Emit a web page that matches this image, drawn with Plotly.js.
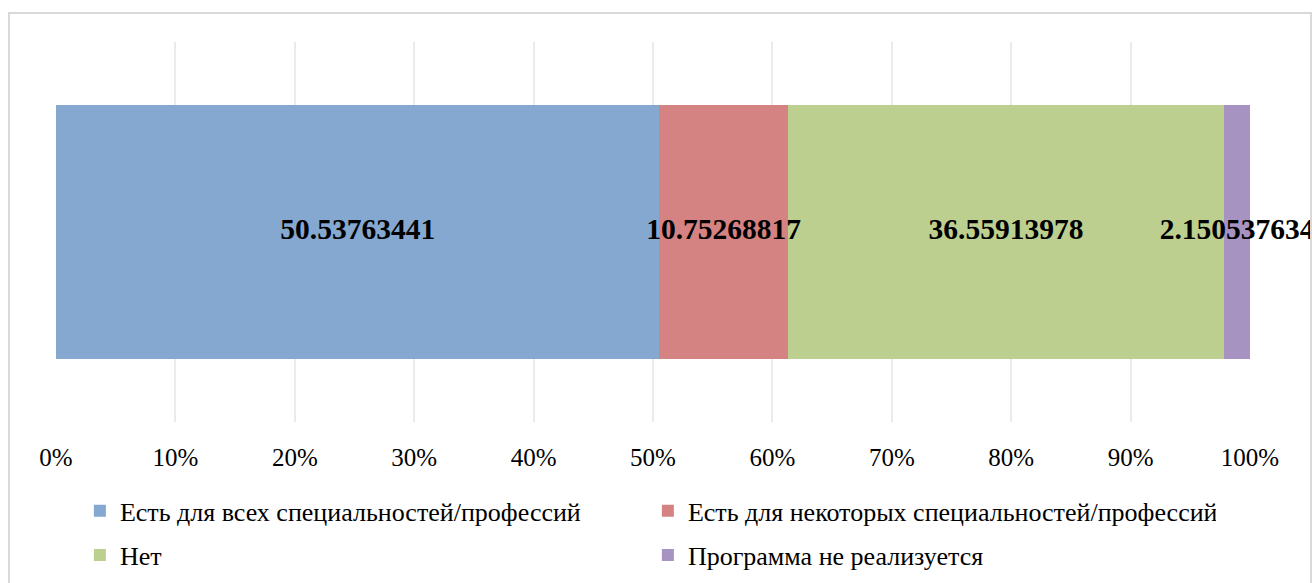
<!DOCTYPE html>
<html>
<head>
<meta charset="utf-8">
<script src="https://cdn.plot.ly/plotly-3.0.1.min.js"></script>
<style>
  body { margin: 0; background: #fff; }
  #wrap { position: relative; width: 1312px; height: 583px; overflow: hidden; }
  #chart { width: 1312px; height: 583px; }
  #frame {
    position: absolute; left: 8px; top: 12px; width: 1300px; height: 600px;
    border: 2px solid #D9D9D9; pointer-events: none;
  }
</style>
</head>
<body>
<div id="wrap">
  <div id="chart"></div>
  <div id="frame"></div>
</div>
<script>
// ─────────────────────────────
// DATOS
// ─────────────────────────────
const categoria = [''];
const series = [
  'Есть для всех специальностей/профессий',
  'Есть для некоторых специальностей/профессий',
  'Нет',
  'Программа не реализуется'
];
const valores = [50.53763441, 10.75268817, 36.55913978, 2.150537634];
const colores = ['#85A8D0', '#D58282', '#BDCF8F', '#A693C2'];
const ticksX = [0, 10, 20, 30, 40, 50, 60, 70, 80, 90, 100];
const ticksTexto = ['0%', '10%', '20%', '30%', '40%', '50%', '60%', '70%', '80%', '90%', '100%'];

const FUENTE = 'Liberation Serif, Times New Roman, serif';

// ─────────────────────────────
// TRAZAS
// ─────────────────────────────
const traces = series.map((nombre, i) => ({
  type: 'bar',
  orientation: 'h',
  name: nombre,
  y: categoria,
  x: [valores[i]],
  marker: { color: colores[i], line: { width: 0 } },
  width: 0.668,
  hoverinfo: 'name+x',
  legend: i < 2 ? 'legend' : 'legend2'
}));

// etiquetas encima de todas las barras (centro de cada segmento)
let acumulado = 0;
const centros = valores.map(v => {
  const c = acumulado + v / 2;
  acumulado += v;
  return c;
});

traces.push({
  type: 'scatter',
  mode: 'text',
  x: centros,
  y: valores.map(() => categoria[0]),
  text: valores.map(String),
  textposition: 'middle center',
  textfont: { family: FUENTE, size: 29.5, color: '#000', weight: 'bold' },
  cliponaxis: false,
  showlegend: false,
  hoverinfo: 'skip'
});

// ─────────────────────────────
// LAYOUT
// ─────────────────────────────
const leyenda = (y) => ({
  orientation: 'h',
  x: 0.02,
  xanchor: 'left',
  y: y,
  yanchor: 'middle',
  entrywidth: 523,
  font: { family: FUENTE, size: 26, color: '#000' },
  bgcolor: 'rgba(0,0,0,0)',
  traceorder: 'normal'
});

Plotly.newPlot('chart', traces, {
  width: 1312,
  height: 583,
  margin: { l: 56, r: 62, t: 42, b: 161, autoexpand: false },
  paper_bgcolor: '#fff',
  plot_bgcolor: '#fff',
  barmode: 'stack',
  showlegend: true,
  xaxis: {
    range: [0, 100],
    tickmode: 'array',
    tickvals: ticksX,
    ticktext: ticksTexto,
    showgrid: true,
    gridcolor: '#EBEBEB',
    gridwidth: 2,
    zeroline: false,
    showline: false,
    ticks: '',
    ticklabelstandoff: 18,
    tickfont: { family: FUENTE, size: 25, color: '#000' },
    fixedrange: true
  },
  yaxis: {
    range: [-0.5, 0.5],
    visible: false,
    fixedrange: true
  },
  legend: leyenda(-0.234),
  legend2: leyenda(-0.35)
}, { displayModeBar: false, staticPlot: true });
</script>
</body>
</html>
